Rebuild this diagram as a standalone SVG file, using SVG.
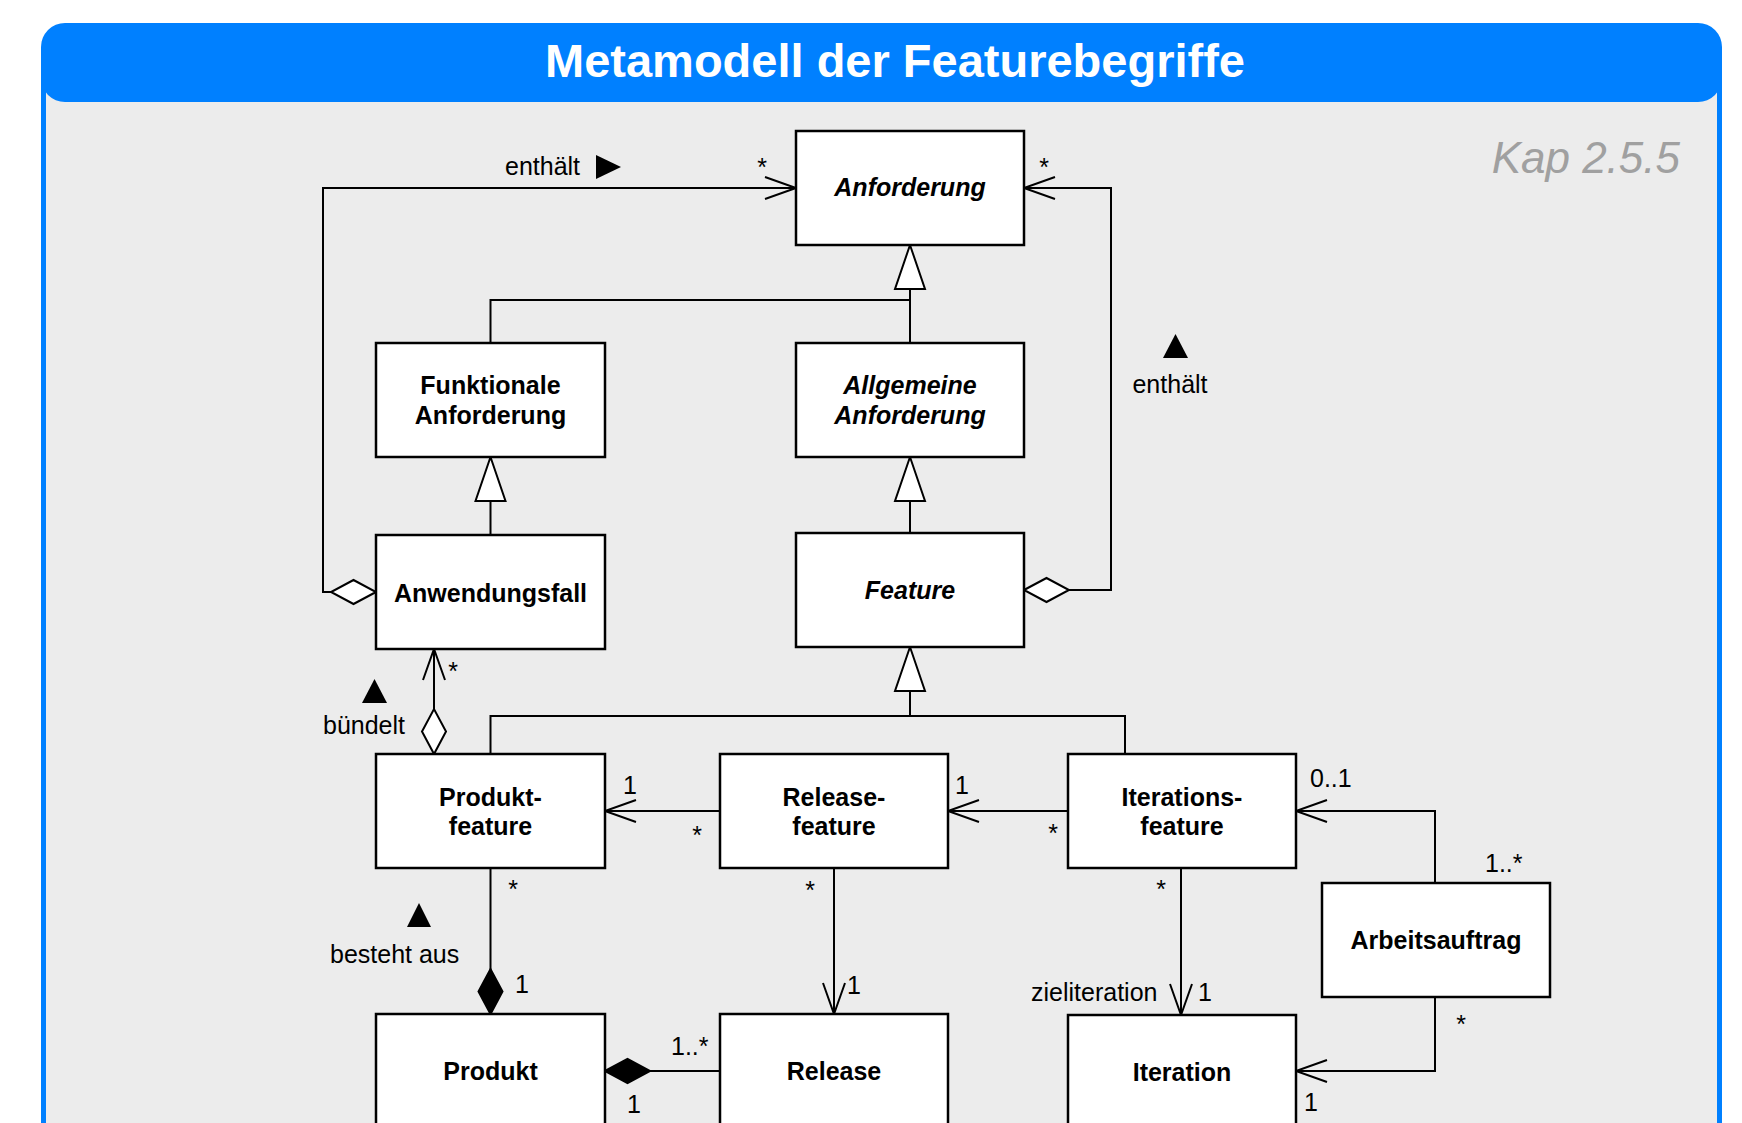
<svg xmlns="http://www.w3.org/2000/svg" width="1742" height="1123" viewBox="0 0 1742 1123">
<style>
.node rect{fill:#fff;stroke:#000;stroke-width:2.5}
.nt{font-family:"Liberation Sans",Arial,sans-serif;font-size:25px;font-weight:bold;text-anchor:middle;fill:#000}
.it{font-style:italic}
.lbl{font-family:"Liberation Sans",Arial,sans-serif;font-size:25px;fill:#000}
.mid{text-anchor:middle}
#connectors path{fill:none;stroke:#000;stroke-width:2}
.dir{fill:#000}
</style>
<defs>
<marker id="open" markerUnits="userSpaceOnUse" markerWidth="40" markerHeight="30" viewBox="-36 -15 40 30" refX="0" refY="0" orient="auto" overflow="visible"><path d="M-31,-11 L0,0 L-31,11" fill="none" stroke="#000" stroke-width="2"/></marker>
<marker id="gen" markerUnits="userSpaceOnUse" markerWidth="50" markerHeight="36" viewBox="-48 -18 50 36" refX="0" refY="0" orient="auto" overflow="visible"><path d="M0,0 L-44,-15 L-44,15 Z" fill="#fff" stroke="#000" stroke-width="2"/></marker>
<marker id="agg" markerUnits="userSpaceOnUse" markerWidth="50" markerHeight="30" viewBox="-2 -15 50 30" refX="0" refY="0" orient="auto" overflow="visible"><path d="M0,0 L22.5,-12 L45,0 L22.5,12 Z" fill="#fff" stroke="#000" stroke-width="2"/></marker>
<marker id="comp" markerUnits="userSpaceOnUse" markerWidth="50" markerHeight="30" viewBox="-2 -15 50 30" refX="0" refY="0" orient="auto" overflow="visible"><path d="M0,0 L22.5,-12 L45,0 L22.5,12 Z" fill="#000" stroke="#000" stroke-width="2"/></marker>
</defs>

<rect x="43.5" y="60" width="1676" height="1100" fill="#ECECEC" stroke="#0080FF" stroke-width="5"/>
<rect x="41" y="23" width="1681" height="79" rx="24" ry="24" fill="#0080FF"/>
<text x="895" y="77" font-family="'Liberation Sans',Arial,sans-serif" font-size="47" font-weight="bold" fill="#fff" text-anchor="middle">Metamodell der Featurebegriffe</text>
<text x="1680" y="173" font-family="'Liberation Sans',Arial,sans-serif" font-size="44" font-style="italic" fill="#A0A0A0" text-anchor="end">Kap 2.5.5</text>

<g id="connectors">
<path d="M490.5,343 V300 H910"/>
<path d="M910,343 V245" marker-end="url(#gen)"/>
<path d="M490.5,535 V457" marker-end="url(#gen)"/>
<path d="M910,533 V457" marker-end="url(#gen)"/>
<path d="M490.5,754 V716 H1125 V754"/>
<path d="M910,716 V647" marker-end="url(#gen)"/>
<path d="M376,592 H323 V188 H796" marker-start="url(#agg)" marker-end="url(#open)"/>
<path d="M1024,590 H1111 V188 H1024" marker-start="url(#agg)" marker-end="url(#open)"/>
<path d="M434,754 V649" marker-start="url(#agg)" marker-end="url(#open)"/>
<path d="M720,811 H605" marker-end="url(#open)"/>
<path d="M1068,811 H948" marker-end="url(#open)"/>
<path d="M490.5,1014 V868" marker-start="url(#comp)"/>
<path d="M605,1071 H720" marker-start="url(#comp)"/>
<path d="M834,869 V1014" marker-end="url(#open)"/>
<path d="M1181,868 V1015" marker-end="url(#open)"/>
<path d="M1435,883 V811 H1296" marker-end="url(#open)"/>
<path d="M1435,997 V1071 H1296" marker-end="url(#open)"/>
</g>

<g id="labels">
<text class="lbl" x="505" y="175">enthält</text>
<polygon class="dir" points="596,155 621,167 596,179"/>
<text class="lbl mid" x="762" y="176">*</text>
<text class="lbl mid" x="1044" y="176">*</text>
<polygon class="dir" points="1163,358 1188,358 1175.5,334"/>
<text class="lbl mid" x="1170" y="393">enthält</text>
<polygon class="dir" points="362,703 387,703 374.5,679"/>
<text class="lbl" x="323" y="734">bündelt</text>
<text class="lbl mid" x="453" y="680">*</text>
<text class="lbl mid" x="630" y="794">1</text>
<text class="lbl mid" x="697" y="844">*</text>
<text class="lbl mid" x="962" y="794">1</text>
<text class="lbl mid" x="1053" y="842">*</text>
<text class="lbl" x="1310" y="787">0..1</text>
<text class="lbl" x="1485" y="872">1..*</text>
<text class="lbl mid" x="513" y="898">*</text>
<text class="lbl mid" x="522" y="993">1</text>
<polygon class="dir" points="407,927 431,927 419,903"/>
<text class="lbl" x="330" y="963">besteht aus</text>
<text class="lbl mid" x="810" y="899">*</text>
<text class="lbl mid" x="854" y="994">1</text>
<text class="lbl" x="671" y="1055">1..*</text>
<text class="lbl mid" x="634" y="1113">1</text>
<text class="lbl mid" x="1161" y="898">*</text>
<text class="lbl" x="1031" y="1001">zieliteration</text>
<text class="lbl mid" x="1205" y="1001">1</text>
<text class="lbl mid" x="1461" y="1033">*</text>
<text class="lbl mid" x="1311" y="1111">1</text>
</g>

<g id="n-anforderung" class="node"><rect x="796" y="131" width="228" height="114"/><text class="nt it" x="910" y="196">Anforderung</text></g>
<g id="n-funktionale" class="node"><rect x="376" y="343" width="229" height="114"/><text class="nt" x="490.5" y="394">Funktionale</text><text class="nt" x="490.5" y="424">Anforderung</text></g>
<g id="n-allgemeine" class="node"><rect x="796" y="343" width="228" height="114"/><text class="nt it" x="910" y="394">Allgemeine</text><text class="nt it" x="910" y="424">Anforderung</text></g>
<g id="n-anwendungsfall" class="node"><rect x="376" y="535" width="229" height="114"/><text class="nt" x="490.5" y="602">Anwendungsfall</text></g>
<g id="n-feature" class="node"><rect x="796" y="533" width="228" height="114"/><text class="nt it" x="910" y="599">Feature</text></g>
<g id="n-produktfeature" class="node"><rect x="376" y="754" width="229" height="114"/><text class="nt" x="490.5" y="806">Produkt-</text><text class="nt" x="490.5" y="835">feature</text></g>
<g id="n-releasefeature" class="node"><rect x="720" y="754" width="228" height="114"/><text class="nt" x="834" y="806">Release-</text><text class="nt" x="834" y="835">feature</text></g>
<g id="n-iterationsfeature" class="node"><rect x="1068" y="754" width="228" height="114"/><text class="nt" x="1182" y="806">Iterations-</text><text class="nt" x="1182" y="835">feature</text></g>
<g id="n-arbeitsauftrag" class="node"><rect x="1322" y="883" width="228" height="114"/><text class="nt" x="1436" y="949">Arbeitsauftrag</text></g>
<g id="n-produkt" class="node"><rect x="376" y="1014" width="229" height="114"/><text class="nt" x="490.5" y="1080">Produkt</text></g>
<g id="n-release" class="node"><rect x="720" y="1014" width="228" height="114"/><text class="nt" x="834" y="1080">Release</text></g>
<g id="n-iteration" class="node"><rect x="1068" y="1015" width="228" height="114"/><text class="nt" x="1182" y="1081">Iteration</text></g>
</svg>
